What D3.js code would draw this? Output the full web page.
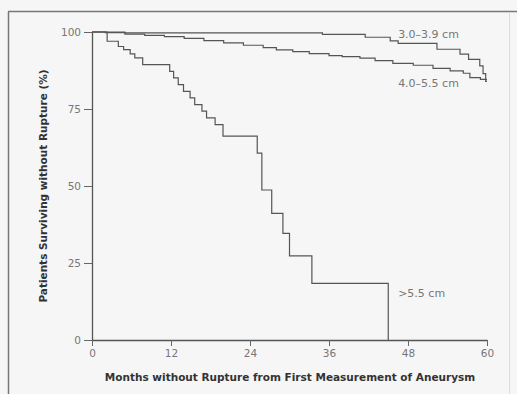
<!DOCTYPE html>
<html>
<head>
<meta charset="utf-8">
<script src="https://cdn.jsdelivr.net/npm/d3@7"></script>
<style>
  html, body { margin: 0; padding: 0; background: #f6f6f6; }
  svg { display: block; }
</style>
</head>
<body>
<div id="chart"></div>
<script>
// Kaplan-Meier curves (months, % surviving without rupture)
const smallMonths   = [0, 5, 35, 41.5, 45.3, 46.5, 52.4, 55.9, 57.2, 58.9, 59.4, 59.8, 60];
const smallSurvival = [100, 99.7, 99.2, 98.3, 97.1, 96.3, 94.4, 92.8, 91.1, 89.0, 86.5, 84.0, 84.0];

const mediumMonths   = [0, 2, 5, 8, 11, 14, 17, 20, 23, 26, 28, 30.5, 33, 36, 38, 40.7, 43, 45.7, 48.8, 51.8, 54.4, 56.4, 57.4, 59, 60];
const mediumSurvival = [100, 99.8, 99.3, 98.9, 98.5, 97.9, 97.2, 96.5, 95.7, 94.9, 94.2, 93.6, 93.0, 92.3, 92.0, 91.5, 90.7, 89.8, 89.2, 88.2, 87.4, 86.6, 85.2, 84.6, 84.6];

const largeMonths   = [0, 2.3, 4.0, 4.8, 5.8, 6.5, 7.7, 11.8, 12.4, 13.1, 13.9, 14.9, 15.6, 16.7, 17.4, 18.7, 19.9, 25.1, 25.8, 27.3, 29.0, 30.0, 33.4, 45.0];
const largeSurvival = [100, 97.0, 95.3, 94.3, 92.9, 91.6, 89.4, 87.2, 85.1, 82.9, 80.7, 78.6, 76.4, 74.3, 72.1, 69.9, 66.2, 60.7, 48.7, 41.1, 34.6, 27.3, 18.4, 0];

const seriesLabels = ["3.0\u20133.9 cm", "4.0\u20135.5 cm", ">5.5 cm"];
const xTicks = [0, 12, 24, 36, 48, 60];
const yTicks = [0, 25, 50, 75, 100];
const xTitle = "Months without Rupture from First Measurement of Aneurysm";
const yTitle = "Patients Surviving without Rupture (%)";

const width = 517, height = 394;
const margin = { left: 92, right: 30, top: 32, bottom: 54 };

const svg = d3.select("#chart").append("svg")
    .attr("width", width)
    .attr("height", height);

svg.append("rect")
    .attr("width", width).attr("height", height)
    .attr("fill", "#f6f6f6");

// outer frame (left + top dark, right faint)
svg.append("line").attr("x1", 8.5).attr("x2", 8.5).attr("y1", 11.5).attr("y2", height)
    .attr("stroke", "#777").attr("stroke-width", 1.5);
svg.append("line").attr("x1", 8).attr("x2", width).attr("y1", 11.5).attr("y2", 11.5)
    .attr("stroke", "#777").attr("stroke-width", 1.5);
svg.append("line").attr("x1", 509.5).attr("x2", 509.5).attr("y1", 12).attr("y2", height)
    .attr("stroke", "#ddd").attr("stroke-width", 1);

const x = d3.scaleLinear().domain([0, 60]).range([margin.left, width - margin.right]);
const y = d3.scaleLinear().domain([0, 100]).range([height - margin.bottom, margin.top]);

// axes
const xAxis = svg.append("g")
    .attr("transform", `translate(0,${y(0)})`)
    .call(d3.axisBottom(x).tickValues(xTicks).tickSize(6).tickPadding(4).tickSizeOuter(0));
const yAxis = svg.append("g")
    .attr("transform", `translate(${x(0)},0)`)
    .call(d3.axisLeft(y).tickValues(yTicks).tickSize(8).tickPadding(3).tickSizeOuter(0));

[xAxis, yAxis].forEach(g => {
    g.select(".domain").attr("stroke", "#555").attr("stroke-width", 1.3);
    g.selectAll(".tick line").attr("stroke", "#666");
    g.selectAll(".tick text")
        .attr("fill", "#777")
        .style("font-family", "'DejaVu Sans', sans-serif")
        .style("font-size", "10.5px");
});

// curves
const line = d3.line()
    .x(d => x(d[0]))
    .y(d => y(d[1]))
    .curve(d3.curveStepAfter);

const series = [
    d3.zip(smallMonths, smallSurvival),
    d3.zip(mediumMonths, mediumSurvival),
    d3.zip(largeMonths, largeSurvival)
];

svg.append("g").selectAll("path")
    .data(series)
    .enter()
    .append("path")
    .attr("d", line)
    .attr("fill", "none")
    .attr("stroke", "#555")
    .attr("stroke-width", 1.2);

// series labels
const labelPos = [[46.5, 99.4], [46.5, 83.4], [46.5, 15.3]];
svg.append("g").selectAll("text")
    .data(seriesLabels)
    .enter()
    .append("text")
    .attr("x", (d, i) => x(labelPos[i][0]))
    .attr("y", (d, i) => y(labelPos[i][1]))
    .attr("dy", "0.35em")
    .attr("fill", "#777")
    .style("font-family", "'DejaVu Sans', sans-serif")
    .style("font-size", "11px")
    .text(d => d);

// axis titles
svg.append("text")
    .attr("x", 290).attr("y", 381)
    .attr("text-anchor", "middle")
    .attr("fill", "#333")
    .style("font-family", "'DejaVu Sans', sans-serif")
    .style("font-size", "10.5px")
    .style("font-weight", "bold")
    .text(xTitle);

svg.append("text")
    .attr("transform", "translate(47,186) rotate(-90)")
    .attr("text-anchor", "middle")
    .attr("fill", "#333")
    .style("font-family", "'DejaVu Sans', sans-serif")
    .style("font-size", "10.5px")
    .style("font-weight", "bold")
    .text(yTitle);
</script>
</body>
</html>
